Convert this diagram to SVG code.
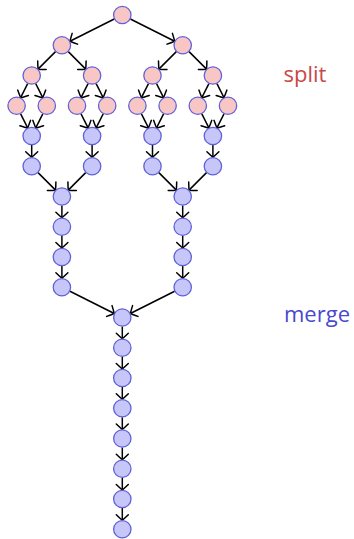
<svg xmlns="http://www.w3.org/2000/svg" width="354" height="539" viewBox="0 0 354 539">
<style>
.n{stroke:#6161d9;stroke-width:1.3}
.s{fill:#f9c6c6}
.m{fill:#c6c6f9}
.e line{stroke:#000;stroke-width:1.5;marker-end:url(#a)}
.lbl{font-family:"Open Sans","Liberation Sans",sans-serif;font-size:22px}
</style>
<defs>
<marker id="a" markerUnits="userSpaceOnUse" viewBox="-8 -8 10 16" markerWidth="10" markerHeight="16" refX="0" refY="0" orient="auto" overflow="visible">
<path d="M-5.5,-6 Q-1.5,-1.8 0,0 Q-1.5,1.8 -5.5,6" fill="none" stroke="#000" stroke-width="1.5" stroke-linecap="round"/>
</marker>
</defs>
<rect width="354" height="539" fill="#fff"/>
<g id="connectors" class="e">
<line x1="114.25" y1="19.03" x2="69.95" y2="41.22"/>
<line x1="130.35" y1="19.03" x2="174.65" y2="41.22"/>
<line x1="55.54" y1="51.62" x2="38.06" y2="69.13"/>
<line x1="68.26" y1="51.62" x2="85.74" y2="69.13"/>
<line x1="176.34" y1="51.62" x2="158.86" y2="69.13"/>
<line x1="189.06" y1="51.62" x2="206.54" y2="69.13"/>
<line x1="27.68" y1="83.55" x2="20.62" y2="97.7"/>
<line x1="35.72" y1="83.55" x2="42.78" y2="97.7"/>
<line x1="88.08" y1="83.55" x2="81.02" y2="97.7"/>
<line x1="96.12" y1="83.55" x2="103.18" y2="97.7"/>
<line x1="148.48" y1="83.55" x2="141.42" y2="97.7"/>
<line x1="156.52" y1="83.55" x2="163.58" y2="97.7"/>
<line x1="208.88" y1="83.55" x2="201.82" y2="97.7"/>
<line x1="216.92" y1="83.55" x2="223.98" y2="97.7"/>
<line x1="20.62" y1="113.8" x2="27.68" y2="127.95"/>
<line x1="42.78" y1="113.8" x2="35.72" y2="127.95"/>
<line x1="81.02" y1="113.8" x2="88.08" y2="127.95"/>
<line x1="103.18" y1="113.8" x2="96.12" y2="127.95"/>
<line x1="141.42" y1="113.8" x2="148.48" y2="127.95"/>
<line x1="163.58" y1="113.8" x2="156.52" y2="127.95"/>
<line x1="201.82" y1="113.8" x2="208.88" y2="127.95"/>
<line x1="223.98" y1="113.8" x2="216.92" y2="127.95"/>
<line x1="31.7" y1="145" x2="31.7" y2="157.25"/>
<line x1="92.1" y1="145" x2="92.1" y2="157.25"/>
<line x1="152.5" y1="145" x2="152.5" y2="157.25"/>
<line x1="212.9" y1="145" x2="212.9" y2="157.25"/>
<line x1="38.06" y1="172.62" x2="55.54" y2="190.13"/>
<line x1="85.74" y1="172.62" x2="68.26" y2="190.13"/>
<line x1="158.86" y1="172.62" x2="176.34" y2="190.13"/>
<line x1="206.54" y1="172.62" x2="189.06" y2="190.13"/>
<line x1="61.9" y1="205.5" x2="61.9" y2="217.75"/>
<line x1="61.9" y1="235.75" x2="61.9" y2="248"/>
<line x1="61.9" y1="266" x2="61.9" y2="278.25"/>
<line x1="182.7" y1="205.5" x2="182.7" y2="217.75"/>
<line x1="182.7" y1="235.75" x2="182.7" y2="248"/>
<line x1="182.7" y1="266" x2="182.7" y2="278.25"/>
<line x1="69.95" y1="291.28" x2="114.25" y2="313.47"/>
<line x1="174.65" y1="291.28" x2="130.35" y2="313.47"/>
<line x1="122.3" y1="326.5" x2="122.3" y2="338.75"/>
<line x1="122.3" y1="356.75" x2="122.3" y2="369"/>
<line x1="122.3" y1="387" x2="122.3" y2="399.25"/>
<line x1="122.3" y1="417.25" x2="122.3" y2="429.5"/>
<line x1="122.3" y1="447.5" x2="122.3" y2="459.75"/>
<line x1="122.3" y1="477.75" x2="122.3" y2="490"/>
<line x1="122.3" y1="508" x2="122.3" y2="520.25"/>
</g>
<g id="s0" class="n s"><circle cx="122.3" cy="15" r="8.7"/></g>
<g id="s1a" class="n s"><circle cx="61.9" cy="45.25" r="8.7"/></g>
<g id="s1b" class="n s"><circle cx="182.7" cy="45.25" r="8.7"/></g>
<g id="s2a" class="n s"><circle cx="31.7" cy="75.5" r="8.7"/></g>
<g id="s2b" class="n s"><circle cx="92.1" cy="75.5" r="8.7"/></g>
<g id="s2c" class="n s"><circle cx="152.5" cy="75.5" r="8.7"/></g>
<g id="s2d" class="n s"><circle cx="212.9" cy="75.5" r="8.7"/></g>
<g id="s3a" class="n s"><circle cx="16.6" cy="105.75" r="8.7"/></g>
<g id="s3b" class="n s"><circle cx="46.8" cy="105.75" r="8.7"/></g>
<g id="s3c" class="n s"><circle cx="77" cy="105.75" r="8.7"/></g>
<g id="s3d" class="n s"><circle cx="107.2" cy="105.75" r="8.7"/></g>
<g id="s3e" class="n s"><circle cx="137.4" cy="105.75" r="8.7"/></g>
<g id="s3f" class="n s"><circle cx="167.6" cy="105.75" r="8.7"/></g>
<g id="s3g" class="n s"><circle cx="197.8" cy="105.75" r="8.7"/></g>
<g id="s3h" class="n s"><circle cx="228" cy="105.75" r="8.7"/></g>
<g id="m4a" class="n m"><circle cx="31.7" cy="136" r="8.7"/></g>
<g id="m4b" class="n m"><circle cx="92.1" cy="136" r="8.7"/></g>
<g id="m4c" class="n m"><circle cx="152.5" cy="136" r="8.7"/></g>
<g id="m4d" class="n m"><circle cx="212.9" cy="136" r="8.7"/></g>
<g id="m5a" class="n m"><circle cx="31.7" cy="166.25" r="8.7"/></g>
<g id="m5b" class="n m"><circle cx="92.1" cy="166.25" r="8.7"/></g>
<g id="m5c" class="n m"><circle cx="152.5" cy="166.25" r="8.7"/></g>
<g id="m5d" class="n m"><circle cx="212.9" cy="166.25" r="8.7"/></g>
<g id="m6a" class="n m"><circle cx="61.9" cy="196.5" r="8.7"/></g>
<g id="m6b" class="n m"><circle cx="182.7" cy="196.5" r="8.7"/></g>
<g id="m7a" class="n m"><circle cx="61.9" cy="226.75" r="8.7"/></g>
<g id="m7b" class="n m"><circle cx="182.7" cy="226.75" r="8.7"/></g>
<g id="m8a" class="n m"><circle cx="61.9" cy="257" r="8.7"/></g>
<g id="m8b" class="n m"><circle cx="182.7" cy="257" r="8.7"/></g>
<g id="m9a" class="n m"><circle cx="61.9" cy="287.25" r="8.7"/></g>
<g id="m9b" class="n m"><circle cx="182.7" cy="287.25" r="8.7"/></g>
<g id="m10" class="n m"><circle cx="122.3" cy="317.5" r="8.7"/></g>
<g id="m11" class="n m"><circle cx="122.3" cy="347.75" r="8.7"/></g>
<g id="m12" class="n m"><circle cx="122.3" cy="378" r="8.7"/></g>
<g id="m13" class="n m"><circle cx="122.3" cy="408.25" r="8.7"/></g>
<g id="m14" class="n m"><circle cx="122.3" cy="438.5" r="8.7"/></g>
<g id="m15" class="n m"><circle cx="122.3" cy="468.75" r="8.7"/></g>
<g id="m16" class="n m"><circle cx="122.3" cy="499" r="8.7"/></g>
<g id="m17" class="n m"><circle cx="122.3" cy="529.25" r="8.7"/></g>
<g id="label-split"><text class="lbl" x="283.5" y="82.3" fill="#c84848">split</text></g>
<g id="label-merge"><text class="lbl" x="284" y="321.7" fill="#4848d0">merge</text></g>
</svg>
